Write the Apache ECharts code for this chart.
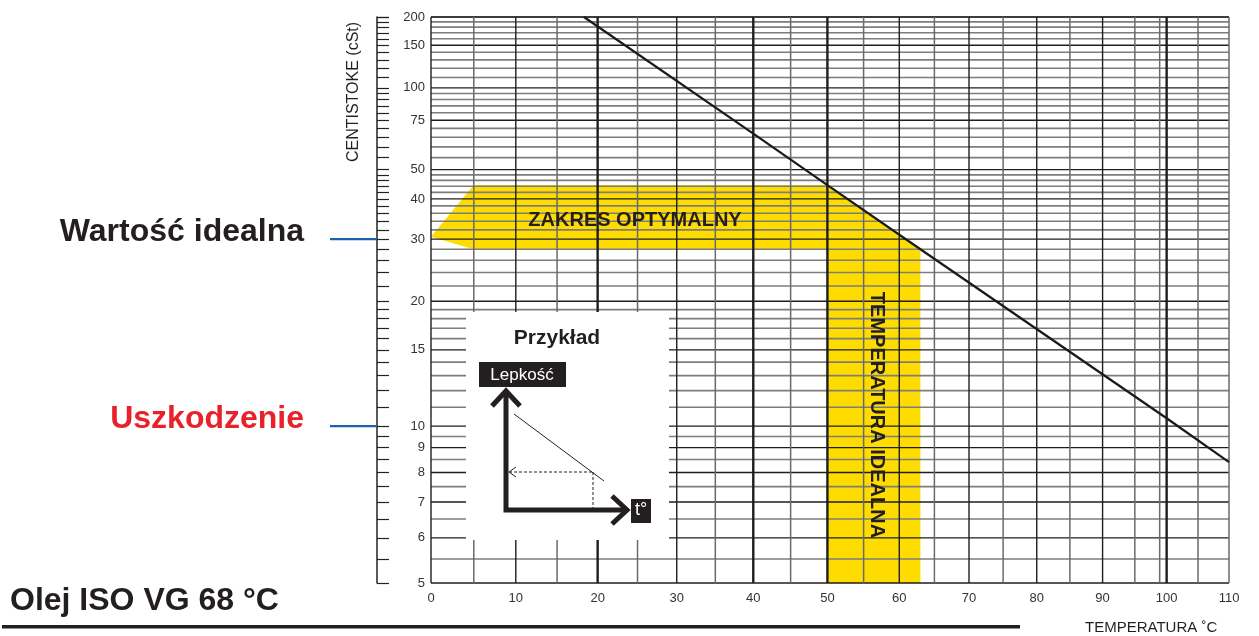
<!DOCTYPE html>
<html>
<head>
<meta charset="utf-8">
<title>Olej ISO VG 68</title>
<script src="https://cdn.jsdelivr.net/npm/echarts@6/dist/echarts.min.js"></script>
<style>
  html, body { margin: 0; padding: 0; background: #fff; }
  #chart { width: 1259px; height: 636px; }
</style>
</head>
<body>
<div id="chart"></div>
<script>
// temperature axis (deg C) and viscosity axis (cSt)
const TEMP_TICKS = [0, 10, 20, 30, 40, 50, 60, 70, 80, 90, 100, 110];
const TEMP_GRID_THIN = [5, 15, 25, 35, 45, 55, 65, 75, 85, 95, 98.9, 105, 110];
const TEMP_GRID_DARK = [0, 10, 30, 60, 70, 80, 90];
const TEMP_GRID_BOLD = [20, 40, 50, 100];

const VISC_TICKS = [5, 6, 7, 8, 9, 10, 15, 20, 30, 40, 50, 75, 100, 150, 200];
const VISC_GRID = [5.5, 6.5, 7.5, 8.5, 9.5, 11, 12, 13, 14, 16, 17, 18, 19,
  22, 24, 26, 28, 32, 34, 36, 38, 42, 44, 46, 48, 55, 60, 65, 70, 80, 85, 90, 95,
  110, 120, 130, 140, 160, 170, 180, 190, 200];

// ISO VG 68 viscosity line
const LINE_TEMP = [18.3, 40, 50, 63, 100, 110];
const LINE_VISC = [200, 67, 44.4, 28, 10.4, 8.4];

// yellow "optimal" zone outline
const ZONE_TEMP = [0, 5, 50, 63, 63, 50, 50, 5];
const ZONE_VISC = [30.5, 44.4, 44.4, 28, 5, 5, 28, 28];

const IDEAL_VISC = 30;
const DAMAGE_VISC = 10;

// ASTM style scales: log absolute temperature, log-log viscosity
const tx = t => Math.log10(t + 273);
const vy = v => Math.log10(Math.log10(v + 0.7));

const FONT = "'Liberation Sans', Arial, sans-serif";

const chart = echarts.init(document.getElementById('chart'));

// one custom series per grid-line style
function vGrid(temps, color, width) {
  return {
    type: 'custom', z: 2, silent: true, clip: false,
    data: temps.map(t => [tx(t), vy(5)]),
    renderItem: (params, api) => {
      const x = api.coord([api.value(0), api.value(1)])[0];
      const cs = params.coordSys;
      return { type: 'line', shape: { x1: x, y1: cs.y, x2: x, y2: cs.y + cs.height }, style: { stroke: color, lineWidth: width } };
    }
  };
}
function hGrid(viscs, color, width) {
  return {
    type: 'custom', z: 2, silent: true, clip: false,
    data: viscs.map(v => [tx(0), vy(v)]),
    renderItem: (params, api) => {
      const y = api.coord([api.value(0), api.value(1)])[1];
      const cs = params.coordSys;
      return { type: 'line', shape: { x1: cs.x, y1: y, x2: cs.x + cs.width, y2: y }, style: { stroke: color, lineWidth: width } };
    }
  };
}

const option = {
  animation: false,
  backgroundColor: '#fff',
  grid: { left: 431, top: 17, width: 798, height: 566, show: false },
  xAxis: {
    type: 'value',
    min: tx(0),
    max: tx(110),
    axisLine: { show: false },
    axisTick: { show: false },
    splitLine: { show: false },
    axisLabel: {
      customValues: TEMP_TICKS.map(tx),
      formatter: v => String(Math.round(Math.pow(10, v) - 273)),
      color: '#333',
      fontSize: 13,
      fontFamily: FONT,
      margin: 9
    }
  },
  yAxis: [
    {
      type: 'value',
      min: vy(5),
      max: vy(200),
      axisLine: { show: false },
      axisTick: { show: false },
      splitLine: { show: false },
      axisLabel: {
        customValues: VISC_TICKS.map(vy),
        formatter: v => String(Math.round(Math.pow(10, Math.pow(10, v)) - 0.7)),
        color: '#333',
        fontSize: 13,
        fontFamily: FONT,
        margin: 6
      }
    },
    {
      type: 'value',
      position: 'left',
      offset: 54,
      min: vy(5),
      max: vy(200),
      axisLine: { show: true, lineStyle: { color: '#222', width: 1.5 } },
      axisTick: {
        show: true,
        inside: true,
        length: 12,
        customValues: VISC_TICKS.concat(VISC_GRID).map(vy),
        lineStyle: { color: '#222', width: 1.2 }
      },
      axisLabel: { show: false },
      splitLine: { show: false }
    }
  ],
  series: [
    {
      type: 'custom',
      z: 1,
      silent: true,
      data: [0],
      renderItem: (params, api) => ({
        type: 'polygon',
        shape: { points: ZONE_TEMP.map((t, i) => api.coord([tx(t), vy(ZONE_VISC[i])])) },
        style: { fill: '#ffdc00' }
      })
    },
    hGrid(VISC_GRID, '#7d7d7d', 1.6),
    hGrid(VISC_TICKS, '#1e1e1e', 1.3),
    vGrid(TEMP_GRID_THIN, '#6a6a6a', 1.5),
    vGrid(TEMP_GRID_DARK, '#1e1e1e', 1.4),
    vGrid(TEMP_GRID_BOLD, '#1e1e1e', 2.4),
    {
      type: 'line',
      z: 3,
      silent: true,
      symbol: 'none',
      lineStyle: { color: '#1a1a1a', width: 2.2 },
      data: LINE_TEMP.map((t, i) => [tx(t), vy(LINE_VISC[i])])
    }
  ]
};

chart.setOption(option);

// left-hand markers placed with the axis scale
const yIdeal = chart.convertToPixel({ yAxisIndex: 0 }, vy(IDEAL_VISC));
const yDamage = chart.convertToPixel({ yAxisIndex: 0 }, vy(DAMAGE_VISC));

const dark = '#231f20';
chart.setOption({
  graphic: [
    // blue pointers and their labels
    { type: 'line', z: 20, shape: { x1: 330, y1: yIdeal, x2: 377, y2: yIdeal }, style: { stroke: '#1a62ae', lineWidth: 2.2 } },
    { type: 'line', z: 20, shape: { x1: 330, y1: yDamage, x2: 377, y2: yDamage }, style: { stroke: '#1a62ae', lineWidth: 2.2 } },
    { type: 'text', z: 20, x: 304, y: yIdeal - 7, style: { text: 'Wartość idealna', fill: dark, font: 'bold 32px ' + FONT, textAlign: 'right', textVerticalAlign: 'middle' } },
    { type: 'text', z: 20, x: 304, y: yDamage - 7, style: { text: 'Uszkodzenie', fill: '#e8212b', font: 'bold 32px ' + FONT, textAlign: 'right', textVerticalAlign: 'middle' } },

    // titles
    { type: 'text', z: 20, x: 354, y: 92, rotation: Math.PI / 2, style: { text: 'CENTISTOKE (cSt)', fill: dark, font: '16px ' + FONT, textAlign: 'center', textVerticalAlign: 'middle' } },
    { type: 'text', z: 20, x: 10, y: 601, style: { text: 'Olej ISO VG 68 °C', fill: dark, font: 'bold 32px ' + FONT, textAlign: 'left', textVerticalAlign: 'middle' } },
    { type: 'rect', z: 20, shape: { x: 2, y: 625, width: 1018, height: 3.5 }, style: { fill: dark } },
    { type: 'text', z: 20, x: 1085, y: 628, style: { text: 'TEMPERATURA ˚C', fill: dark, font: '15px ' + FONT, textAlign: 'left', textVerticalAlign: 'middle' } },

    // zone captions
    { type: 'text', z: 20, x: 635, y: 220, style: { text: 'ZAKRES OPTYMALNY', fill: dark, font: 'bold 20px ' + FONT, textAlign: 'center', textVerticalAlign: 'middle' } },
    { type: 'text', z: 20, x: 877, y: 415, rotation: -Math.PI / 2, style: { text: 'TEMPERATURA IDEALNA', fill: dark, font: 'bold 20px ' + FONT, textAlign: 'center', textVerticalAlign: 'middle' } },

    // "Przykład" inset
    { type: 'rect', z: 30, shape: { x: 466, y: 312, width: 203, height: 228 }, style: { fill: '#fff' } },
    { type: 'text', z: 31, x: 557, y: 338, style: { text: 'Przykład', fill: dark, font: 'bold 21px ' + FONT, textAlign: 'center', textVerticalAlign: 'middle' } },
    { type: 'rect', z: 31, shape: { x: 479, y: 362, width: 87, height: 25 }, style: { fill: dark } },
    { type: 'text', z: 32, x: 522, y: 375, style: { text: 'Lepkość', fill: '#fff', font: '17px ' + FONT, textAlign: 'center', textVerticalAlign: 'middle' } },
    { type: 'polyline', z: 31, shape: { points: [[506, 392], [506, 510], [626, 510]] }, style: { stroke: dark, lineWidth: 5, fill: null } },
    { type: 'polyline', z: 31, shape: { points: [[492, 406], [506, 391], [520, 406]] }, style: { stroke: dark, lineWidth: 5, fill: null } },
    { type: 'polyline', z: 31, shape: { points: [[612, 496], [627, 510], [612, 524]] }, style: { stroke: dark, lineWidth: 5, fill: null } },
    { type: 'rect', z: 31, shape: { x: 631, y: 499, width: 20, height: 24 }, style: { fill: dark } },
    { type: 'text', z: 32, x: 641, y: 510, style: { text: 't°', fill: '#fff', font: '18px ' + FONT, textAlign: 'center', textVerticalAlign: 'middle' } },
    { type: 'line', z: 31, shape: { x1: 514, y1: 414, x2: 604, y2: 481 }, style: { stroke: dark, lineWidth: 1 } },
    { type: 'line', z: 31, shape: { x1: 509, y1: 472, x2: 593, y2: 472 }, style: { stroke: dark, lineWidth: 1, lineDash: [3, 2] } },
    { type: 'line', z: 31, shape: { x1: 593, y1: 472, x2: 593, y2: 508 }, style: { stroke: dark, lineWidth: 1, lineDash: [3, 2] } },
    { type: 'polyline', z: 31, shape: { points: [[516, 467], [509, 472], [516, 477]] }, style: { stroke: dark, lineWidth: 1, fill: null } }
  ]
});
</script>
</body>
</html>
